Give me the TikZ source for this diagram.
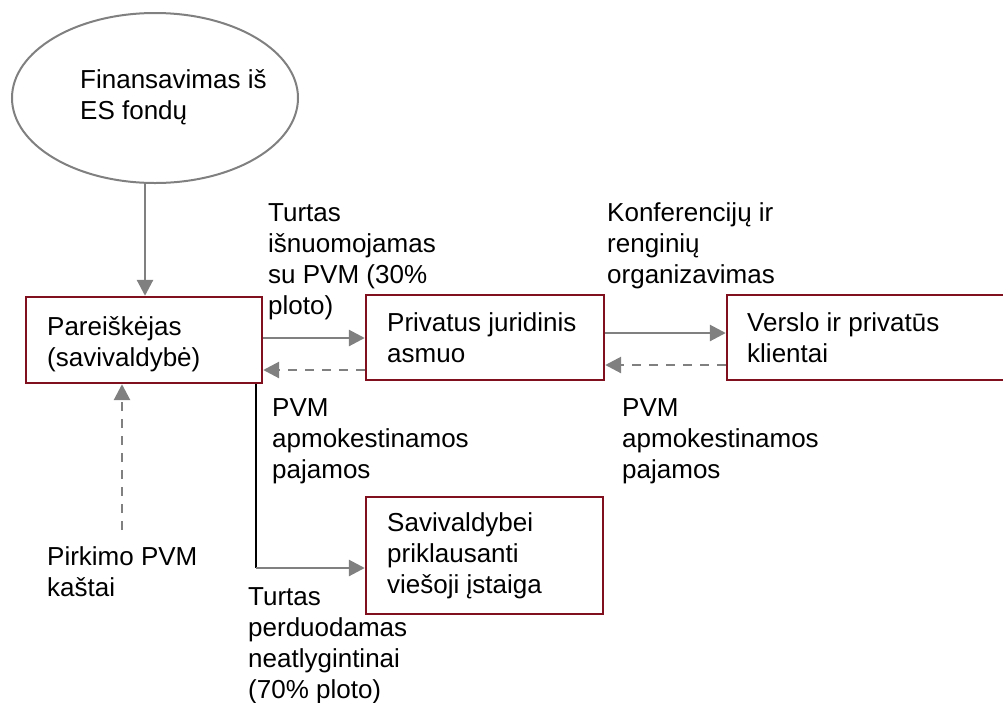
\documentclass[tikz,border=0pt]{standalone}
\usepackage{fontspec}
\setmainfont{Liberation Sans}
\usetikzlibrary{shapes.geometric,arrows.meta}
% multi-line text whose reference point is the baseline of its first line
\newcommand{\txtblock}[1]{\begin{tabular}[t]{@{}l@{}}#1\end{tabular}}
\definecolor{boxred}{RGB}{128,16,30}
\definecolor{flowgray}{RGB}{128,128,128}
\tikzset{
  stepbox/.style={draw=boxred, line width=2.4pt, rectangle, inner sep=0pt},
  txt/.style={anchor=base west, inner sep=0pt, font=\fontsize{26}{31}\selectfont},
  flow/.style={draw=flowgray, line width=2.8pt, -{Triangle[length=16pt,width=16pt]}},
  back/.style={flow, dash pattern=on 9pt off 8pt},
}
\begin{document}
\begin{tikzpicture}[x=1pt,y=-1pt]
\useasboundingbox (0,0) rectangle (1003,702);

% source of funding
\node[ellipse, draw=flowgray, line width=2pt, minimum width=286pt, minimum height=170pt, inner sep=0pt] (ell) at (155,98) {};
\node[txt] (elltxt) at (80,88) {\txtblock{Finansavimas iš\\ES fondų}};

% boxes
\node[stepbox, minimum width=236pt, minimum height=86pt] (appl) at (144,340) {};
\node[stepbox, minimum width=238pt, minimum height=85pt] (priv) at (485,337.5) {};
\node[stepbox, minimum width=281pt, minimum height=85pt] (clients) at (867.5,337.5) {};
\node[stepbox, minimum width=237pt, minimum height=117pt] (inst) at (484.5,555.5) {};

\node[txt] (appltxt) at (47,335) {\txtblock{Pareiškėjas\\(savivaldybė)}};
\node[txt] (privtxt) at (387,331) {\txtblock{Privatus juridinis\\asmuo}};
\node[txt] (clitxt) at (747,331) {\txtblock{Verslo ir privatūs\\klientai}};
\node[txt] (insttxt) at (387,531) {\txtblock{Savivaldybei\\priklausanti\\viešoji įstaiga}};

% connector labels
\node[txt] (lrent) at (268,221) {\txtblock{Turtas\\išnuomojamas\\su PVM (30\%\\ploto)}};
\node[txt] (lconf) at (607,221) {\txtblock{Konferencijų ir\\renginių\\organizavimas}};
\node[txt] (lvat1) at (272,416) {\txtblock{PVM\\apmokestinamos\\pajamos}};
\node[txt] (lvat2) at (622,416) {\txtblock{PVM\\apmokestinamos\\pajamos}};
\node[txt] (lcost) at (47,565) {\txtblock{Pirkimo PVM\\kaštai}};
\node[txt] (lgive) at (248,605) {\txtblock{Turtas\\perduodamas\\neatlygintinai\\(70\% ploto)}};

% connectors
\coordinate (fundx) at (145,0);
\draw[flow] (ell.south -| fundx) -- (appl.north -| fundx);

\coordinate (r1) at (0,338);
\coordinate (r2) at (0,370);
\draw[flow] (appl.east |- r1) -- (priv.west |- r1);
\draw[back] (priv.west |- r2) -- (appl.east |- r2);

\coordinate (c1) at (0,333);
\coordinate (c2) at (0,365);
\draw[flow] (priv.east |- c1) -- (clients.west |- c1);
\draw[back] (clients.west |- c2) -- (priv.east |- c2);

\coordinate (costfoot) at (122,530);
\draw[back] (costfoot) -- (appl.south -| costfoot);

\coordinate (elbowx) at (256,0);
\coordinate (elbow) at (256,568);
\draw[line width=1.8pt, black] (appl.south -| elbowx) -- (elbow);
\draw[flow] (elbow) -- (inst.west |- elbow);
\end{tikzpicture}
\end{document}
